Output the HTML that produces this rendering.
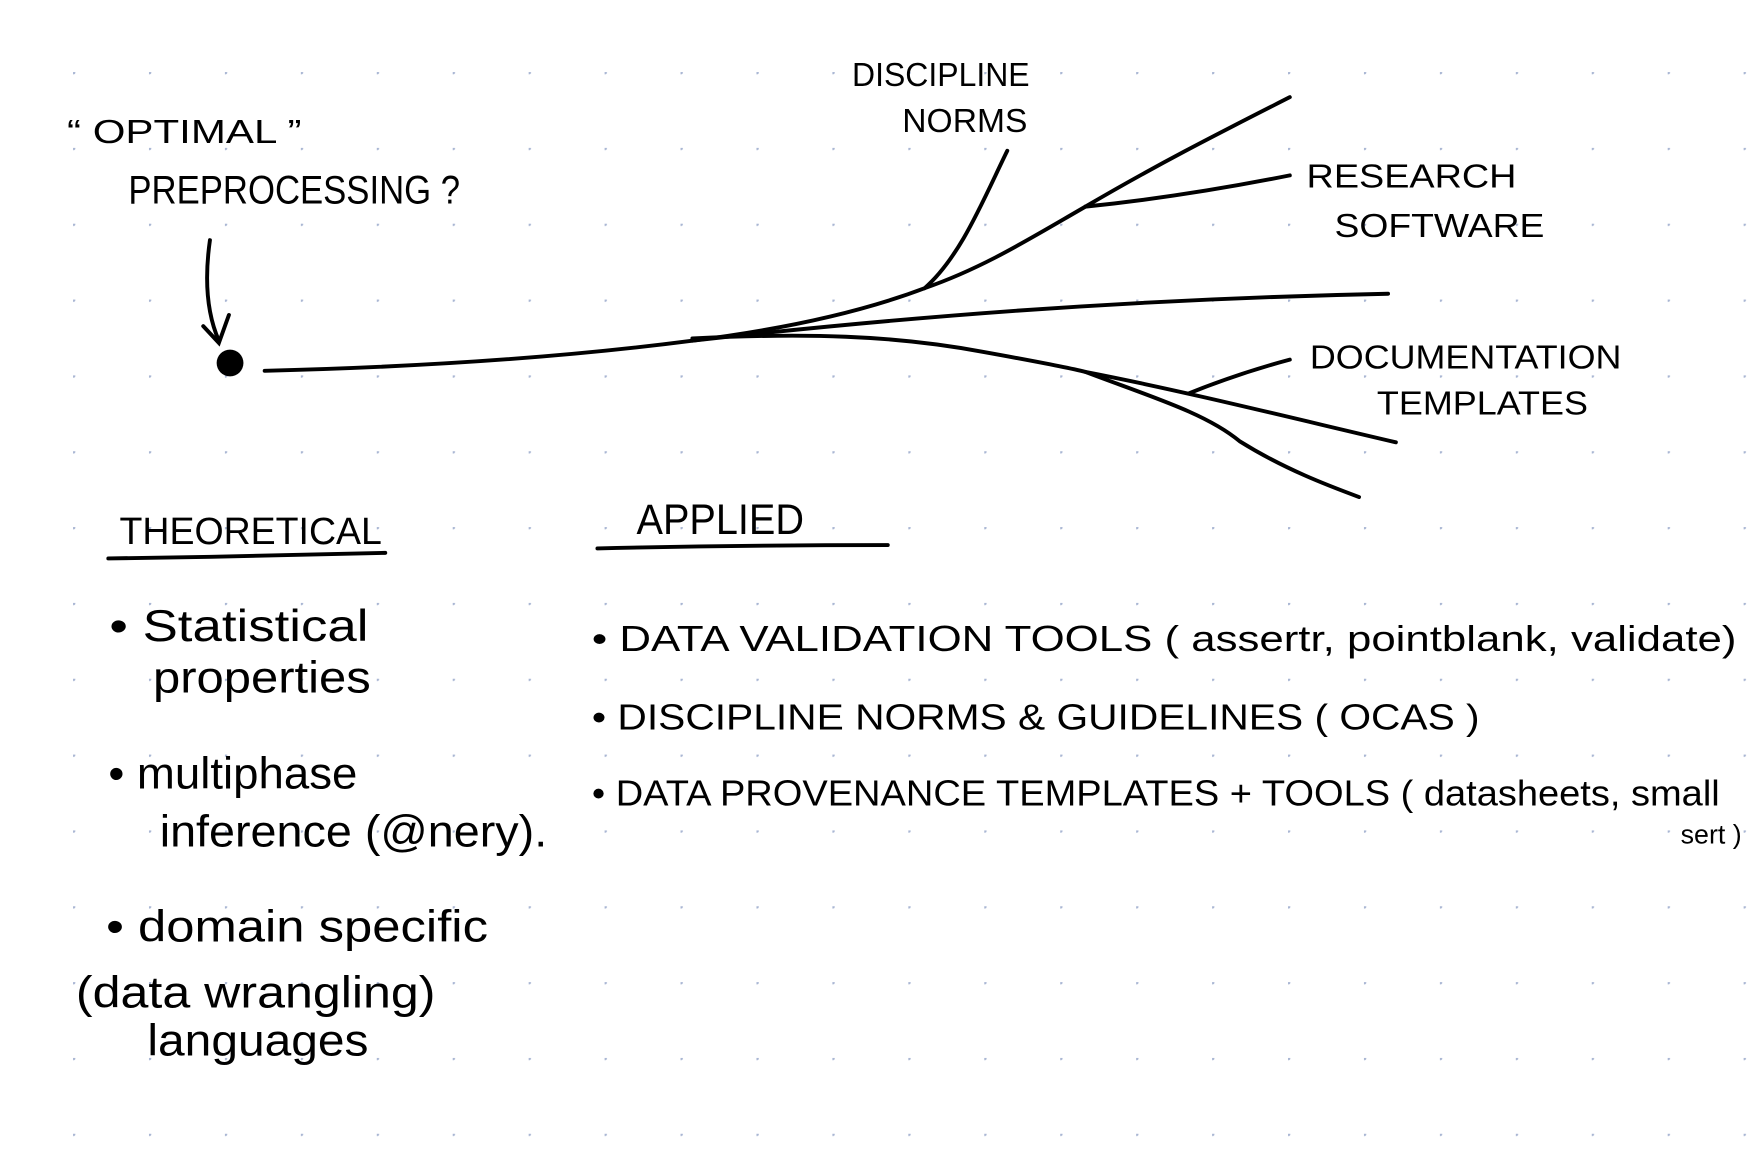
<!DOCTYPE html>
<html><head><meta charset="utf-8"><style>html,body{margin:0;padding:0;background:#fff}svg{display:block}</style></head>
<body>
<svg width="1751" height="1156" viewBox="0 0 1568 1035" preserveAspectRatio="none" xmlns="http://www.w3.org/2000/svg">
<defs><pattern id="g" x="65.4" y="64.5" width="68" height="67.9" patternUnits="userSpaceOnUse"><circle cx="0.5" cy="0.5" r="1.6" fill="#a9b6d3"/></pattern></defs>
<rect width="1568" height="1035" fill="#fff"/>
<rect width="1568" height="1035" fill="url(#g)"/>
<g fill="none" stroke="#000" stroke-width="3.5" stroke-linecap="round">
<path d="M188 215 C183 250 185 280 196 305"/>
<path d="M182 292 L196 307 L205 282"/>
<path d="M237 332 C400 328 520 318 620 305 C700 295 770 280 828 258 C880 240 920 215 972 185 C1040 145 1100 115 1155 87"/>
<path d="M972 185 C1040 178 1100 168 1155 157"/>
<path d="M828 258 C860 230 880 180 902 135"/>
<path d="M620 305 C800 285 1000 268 1243 263"/>
<path d="M620 303 C720 298 800 300 880 315 C930 324 960 330 972 333 C1060 350 1160 375 1250 396"/>
<path d="M972 333 C1030 355 1080 370 1110 395 C1150 420 1190 435 1217 445"/>
<path d="M1065 352 C1095 340 1125 330 1155 322"/>
<path d="M97 500 C180 499 260 497 345 495"/>
<path d="M535 491 C620 489 700 488 795 488"/>
</g>
<circle cx="206" cy="325" r="12" fill="#000"/>
<g font-family="'Liberation Sans', sans-serif" fill="#000" font-size="30">
<text x="60" y="128" textLength="210" lengthAdjust="spacingAndGlyphs">“ OPTIMAL ”</text>
<text x="115" y="182" font-size="36" textLength="297" lengthAdjust="spacingAndGlyphs">PREPROCESSING ?</text>
<text x="763" y="77" textLength="159" lengthAdjust="spacingAndGlyphs">DISCIPLINE</text>
<text x="808" y="118" textLength="112" lengthAdjust="spacingAndGlyphs">NORMS</text>
<text x="1170" y="168" textLength="188" lengthAdjust="spacingAndGlyphs">RESEARCH</text>
<text x="1195" y="212" textLength="188" lengthAdjust="spacingAndGlyphs">SOFTWARE</text>
<text x="1173" y="330" textLength="279" lengthAdjust="spacingAndGlyphs">DOCUMENTATION</text>
<text x="1233" y="371" textLength="189" lengthAdjust="spacingAndGlyphs">TEMPLATES</text>
<text x="107" y="487" font-size="34" textLength="235" lengthAdjust="spacingAndGlyphs">THEORETICAL</text>
<text x="570" y="478" font-size="38" textLength="150" lengthAdjust="spacingAndGlyphs">APPLIED</text>
<g font-size="40">
<text x="98" y="574" textLength="232" lengthAdjust="spacingAndGlyphs">• Statistical</text>
<text x="137" y="620" textLength="195" lengthAdjust="spacingAndGlyphs">properties</text>
<text x="97" y="706" textLength="223" lengthAdjust="spacingAndGlyphs">• multiphase</text>
<text x="143" y="758" textLength="347" lengthAdjust="spacingAndGlyphs">inference (@nery).</text>
<text x="95" y="843" textLength="342" lengthAdjust="spacingAndGlyphs">• domain specific</text>
<text x="68" y="902" textLength="322" lengthAdjust="spacingAndGlyphs">(data wrangling)</text>
<text x="132" y="945" textLength="198" lengthAdjust="spacingAndGlyphs">languages</text>
</g>
<g font-size="32">
<text x="530" y="583" textLength="1025" lengthAdjust="spacingAndGlyphs">• DATA VALIDATION TOOLS ( assertr, pointblank, validate)</text>
<text x="530" y="653" textLength="795" lengthAdjust="spacingAndGlyphs">• DISCIPLINE NORMS &amp; GUIDELINES ( OCAS )</text>
<text x="530" y="721" textLength="1010" lengthAdjust="spacingAndGlyphs">• DATA PROVENANCE TEMPLATES + TOOLS ( datasheets, small</text>
<text x="1505" y="755" font-size="24">sert )</text>
</g>
</g>
</svg>
</body></html>
